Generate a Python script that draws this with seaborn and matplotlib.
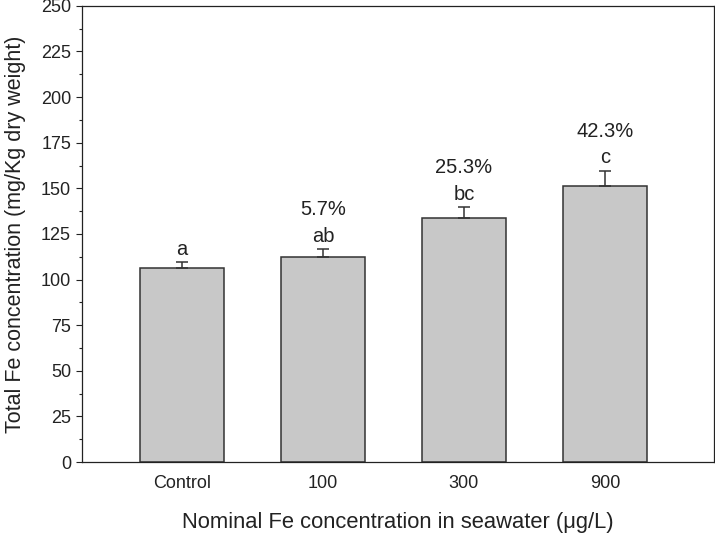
import numpy as np
import pandas as pd
import matplotlib
matplotlib.use("Agg")
import matplotlib.pyplot as plt
from matplotlib.ticker import MultipleLocator
import seaborn as sns

# values
groups = ["Control", "100", "300", "900"]
fe_mean = [106.4, 112.4, 133.5, 151.3]
fe_err = [3.0, 4.1, 6.2, 8.2]
letters = ["a", "ab", "bc", "c"]
increase = ["", "5.7%", "25.3%", "42.3%"]

sns.set_style("ticks")
plt.rcParams["font.family"] = ["Liberation Sans", "DejaVu Sans"]

df = pd.DataFrame({"group": groups, "fe": fe_mean})

fig = plt.figure(figsize=(7.15, 5.33), dpi=100)
ax = fig.add_axes([0.114, 0.133, 0.884, 0.856])

sns.barplot(data=df, x="group", y="fe", color="#c8c8c8", saturation=1,
            edgecolor="#333333", linewidth=1.1, width=0.6, ax=ax)

x = np.arange(len(groups))
lower = np.zeros(len(groups))
ax.errorbar(x, fe_mean, yerr=[lower, fe_err], fmt="none", ecolor="#333333",
            elinewidth=1.1, capsize=4.3, capthick=1.1)

# significance letters and % increase above the caps
for i in range(len(groups)):
    top = fe_mean[i] + fe_err[i]
    ax.text(x[i], top + 7.2, letters[i], ha="center", va="center", fontsize=14.5, color="#222222")
    if increase[i]:
        ax.text(x[i], top + 21.8, increase[i], ha="center", va="center", fontsize=14.5, color="#222222")

ax.set_xlim(-0.712, 3.77)
ax.set_ylim(0, 250)
ax.yaxis.set_major_locator(MultipleLocator(25))
ax.yaxis.set_minor_locator(MultipleLocator(12.5))
ax.tick_params(axis="y", which="major", length=4, width=0.8, labelsize=13, colors="#222222")
ax.tick_params(axis="y", which="minor", length=2.5, width=0.8, colors="#222222")
ax.tick_params(axis="x", length=0, labelsize=13, pad=9, colors="#222222")

for s in ax.spines.values():
    s.set_visible(True)
    s.set_linewidth(0.9)
    s.set_color("#222222")

ax.set_xlabel("Nominal Fe concentration in seawater (\u03bcg/L)", fontsize=15.8, labelpad=15, color="#222222")
ax.set_ylabel("Total Fe concentration (mg/Kg dry weight)", fontsize=15.5, labelpad=11, color="#222222")

plt.savefig("out.png", dpi=100)
